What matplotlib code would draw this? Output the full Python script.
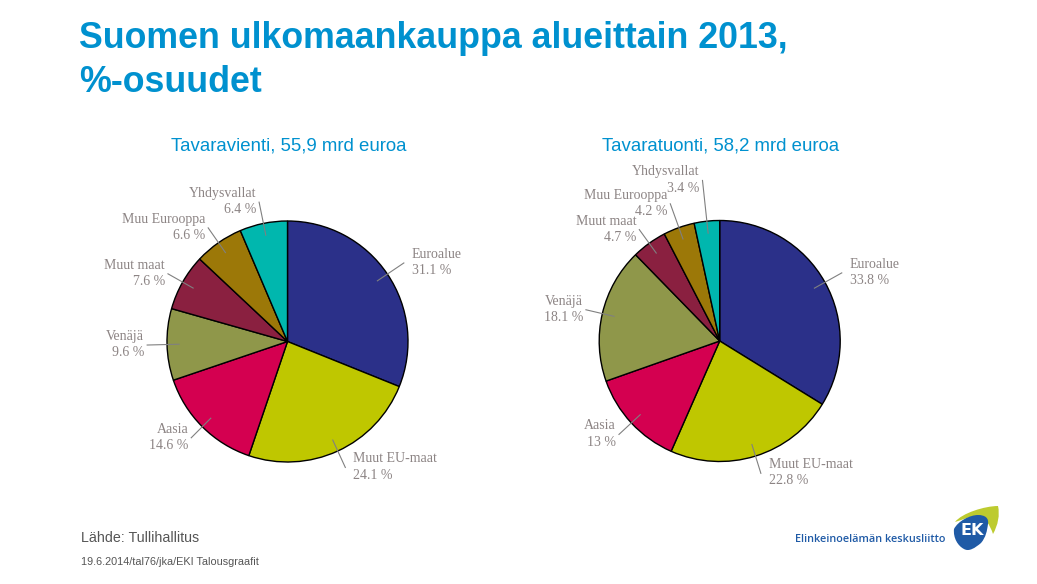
import numpy as np
import matplotlib
matplotlib.use('Agg')
import matplotlib.pyplot as plt
from matplotlib.path import Path
from matplotlib.patches import PathPatch

categories = ['Euroalue', 'Muut EU-maat', 'Aasia', 'Venäjä', 'Muut maat', 'Muu Eurooppa', 'Yhdysvallat']
vienti = [31.1, 24.1, 14.6, 9.6, 7.6, 6.6, 6.4]
tuonti = [33.8, 22.8, 13, 18.1, 4.7, 4.2, 3.4]
colors = ['#2B3089', '#BFC700', '#D40050', '#8F974A', '#8A2040', '#9C7808', '#00B7AE']

W, H = 1037, 584
BLUE = '#0091CF'
GREY = '#8C8484'

fig = plt.figure(figsize=(W / 100, H / 100), dpi=100, facecolor='white')
ax = fig.add_axes([0, 0, 1, 1])


def draw_pie(values, cx, cy, radius, title, reach):
    wedges, _ = ax.pie(values, startangle=90, counterclock=False, colors=colors, radius=radius,
                       center=(cx, H - cy), normalize=True,
                       wedgeprops={'edgecolor': 'black', 'linewidth': 1})
    ax.text(cx + 1, H - 146, title, ha='center', va='center', color=BLUE, fontsize=13.45,
            family='Liberation Sans')
    for w, name, val, r in zip(wedges, categories, values, reach):
        a = np.deg2rad((w.theta1 + w.theta2) / 2)
        x0, y0 = cx + 0.9 * radius * np.cos(a), H - cy + 0.9 * radius * np.sin(a)
        x1, y1 = cx + r * radius * np.cos(a), H - cy + r * radius * np.sin(a)
        ax.plot([x0, x1], [y0, y1], color='#808080', lw=0.8, zorder=5)
        side = 1 if x1 > cx else -1
        ax.text(x1 + (8 if side > 0 else -3), y1 + 0.5, f'{name}\n{val} %', ha='left' if side > 0 else 'right',
                va='center', multialignment='left' if side > 0 else 'right', color=GREY, fontsize=10,
                family='Liberation Serif', linespacing=1.32, zorder=6)


draw_pie(vienti, 287.5, 341.5, 120.5, 'Tavaravienti, 55,9 mrd euroa',
         [1.165, 1.15, 1.13, 1.165, 1.14, 1.15, 1.18])
draw_pie(tuonti, 719.7, 341, 120.5, 'Tavaratuonti, 58,2 mrd euroa',
         [1.16, 1.15, 1.14, 1.14, 1.14, 1.21, 1.34])

ax.text(79, H - 38, 'Suomen ulkomaankauppa alueittain 2013,', color=BLUE, fontsize=25.75, fontweight='bold',
        family='Liberation Sans', va='center')
ax.text(79, H - 82, '%-osuudet', color=BLUE, fontsize=25.75, fontweight='bold',
        family='Liberation Sans', va='center')
ax.text(81, H - 538, 'Lähde: Tullihallitus', color='#555555', fontsize=10.3, family='Liberation Sans', va='center')
ax.text(81, H - 562, '19.6.2014/tal76/jka/EKI Talousgraafit', color='#555555', fontsize=7.8,
        family='Liberation Sans', va='center')

# logo
ax.text(795, H - 539, 'Elinkeinoelämän keskusliitto', color='#1F5AA6', fontsize=7.8,
        family='Open Sans', va='center', fontweight='semibold')


def logo_shape(pts, color):
    verts = [(x, H - y) for x, y in pts] + [(pts[0][0], H - pts[0][1])]
    codes = [Path.MOVETO] + [Path.CURVE4] * (len(pts) - 1) + [Path.CLOSEPOLY]
    ax.add_patch(PathPatch(Path(verts, codes), facecolor=color, edgecolor='none', zorder=3))


logo_shape([(955, 522), (962, 513), (985, 506), (998, 506), (1000, 515), (998, 525), (993, 534),
            (990, 525), (985, 517), (978, 516), (970, 516), (962, 520), (955, 522)], '#BDCB2F')
logo_shape([(954, 529), (958, 521), (970, 515), (978, 515), (985, 515), (989, 518), (988, 524),
            (987, 531), (986, 537), (981, 543), (975, 548), (969, 552), (964, 549), (958, 546),
            (953, 538), (954, 529)], '#1F5AA6')
ax.text(972, H - 530.5, 'EK', color='white', fontsize=11.5, fontweight='bold', family='DejaVu Sans',
        ha='center', va='center', zorder=4)

ax.set_xlim(0, W)
ax.set_ylim(0, H)
ax.set_aspect('equal')
ax.axis('off')
fig.savefig('out.png', dpi=100, facecolor='white')
